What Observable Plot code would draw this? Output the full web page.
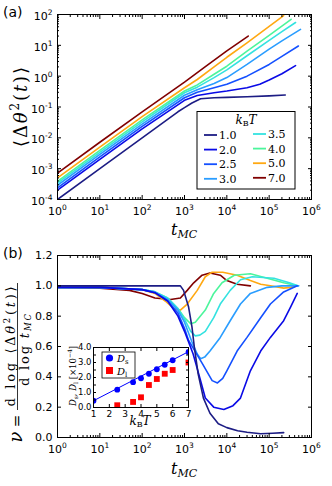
<!DOCTYPE html>
<html><head><meta charset="utf-8">
<script src="https://cdn.jsdelivr.net/npm/d3@7"></script>
<script src="https://cdn.jsdelivr.net/npm/@observablehq/plot@0.6"></script>
<style>
html,body{margin:0;padding:0;background:#fff;}
#root{position:relative;width:332px;height:486px;overflow:hidden;background:#fff;}
#root > svg{position:absolute;}
</style></head><body><div id="root"></div>
<script>
// ---------------- data ----------------
const kTLabels = ["1.0","2.0","2.5","3.0","3.5","4.0","5.0","7.0"];
const kTColors = ["#1c1c84","#0a0ae6","#1450ff","#2a9dff","#34e2e0","#4cf59c","#ffa812","#800000"];

// panel (a): mean squared angular displacement vs t_MC
const msd10_t = [1,10,100,700,1000,1500,2400,5000,1e4,3e4,1e5,2.4e5];
const msd10_v = [1e-4,1e-3,1e-2,0.07,0.095,0.135,0.185,0.2,0.205,0.215,0.23,0.245];
const msd20_t = [1,10,100,1000,2000,5000,1e4,3e4,6e4,1e5,2e5,4.2e5];
const msd20_v = [2e-4,2e-3,1.95e-2,0.165,0.235,0.29,0.33,0.42,0.55,0.75,1.2,2.2];
const msd25_t = [1,10,100,1000,2000,5000,1e4,3e4,1e5,2e5,4.9e5];
const msd25_v = [2.4e-4,2.4e-3,2.35e-2,0.2,0.3,0.42,0.55,1.0,2.4,4.4,9.5];
const msd30_t = [1,10,100,1000,2000,5000,1e4,3e4,1e5,2e5,5.5e5];
const msd30_v = [2.9e-4,2.9e-3,2.8e-2,0.24,0.36,0.58,0.9,2.4,7.5,14,33];
const msd35_t = [1,10,100,1000,2000,5000,1e4,3e4,1e5,2e5,4.2e5];
const msd35_v = [3.4e-4,3.4e-3,3.3e-2,0.29,0.44,0.9,1.6,4.6,14.5,28,55];
const msd40_t = [1,10,100,1000,2000,5000,1e4,3e4,1e5,3.3e5];
const msd40_v = [3.9e-4,3.9e-3,3.8e-2,0.33,0.52,1.15,2.1,6.5,21,70];
const msd50_t = [1,10,100,1000,2000,5000,1e4,3e4,1e5,2.2e5];
const msd50_v = [5e-4,5e-3,4.9e-2,0.42,0.78,2.0,4.1,12,41,92];
const msd70_t = [1,10,100,1000,3000,1e4,3.2e4];
const msd70_v = [7.2e-4,7.2e-3,7e-2,0.64,1.95,6.6,20];

// panel (b): local exponent nu vs t_MC
const nu10_t = [1,10,100,500,800,950,1250,1500,1700,2100,2800,4000,6300,1e4,1.8e4,3e4,6.3e4,1.2e5,2.2e5];
const nu10_v = [1.0,1.0,1.0,1.0,1.0,0.97,0.86,0.73,0.6,0.42,0.26,0.16,0.09,0.065,0.045,0.035,0.025,0.028,0.032];
const nu20_t = [1,10,100,200,400,700,1000,1600,2400,3100,4900,8500,1.4e4,2.1e4,3.6e4,6.3e4,1.07e5,2.2e5,3.2e5,4.6e5];
const nu20_v = [0.99,0.99,0.975,0.955,0.9,0.8,0.7,0.55,0.375,0.26,0.2,0.185,0.21,0.26,0.44,0.57,0.66,0.77,0.86,0.95];
const nu25_t = [1,10,100,200,400,700,1000,1250,2600,4500,6000,8000,1e4,1.75e4,3e4,6.3e4,1.07e5,2.2e5,4.6e5];
const nu25_v = [0.99,0.99,0.975,0.955,0.9,0.82,0.72,0.64,0.49,0.375,0.36,0.39,0.44,0.57,0.66,0.79,0.88,0.96,1.0];
const nu30_t = [1,10,100,200,400,700,1000,1500,2000,2400,3000,4000,7000,1.2e4,2.1e4,3.6e4,9e4,2e5,5e5];
const nu30_v = [0.99,0.99,0.975,0.96,0.91,0.84,0.76,0.63,0.55,0.52,0.53,0.57,0.66,0.77,0.88,0.95,0.99,1.0,1.0];
const nu35_t = [1,10,100,200,400,700,1000,1400,1800,2300,3100,4900,7000,1.2e4,2.1e4,4e4,1.3e5,3e5,4.8e5];
const nu35_v = [0.99,0.99,0.975,0.96,0.92,0.85,0.78,0.7,0.67,0.675,0.7,0.79,0.88,0.97,1.04,1.06,1.05,1.02,1.0];
const nu40_t = [1,10,100,200,400,700,1000,1400,1800,3100,4900,7700,1.5e4,3.6e4,9e4,2.2e5,4.6e5];
const nu40_v = [0.99,0.99,0.975,0.96,0.92,0.85,0.79,0.75,0.76,0.84,0.95,1.02,1.07,1.08,1.05,1.02,1.0];
const nu50_t = [1,10,100,200,350,560,800,1160,2000,3100,4500,8000,1.75e4,3.6e4,6.3e4,1.07e5,2.2e5,3.3e5,4.6e5];
const nu50_v = [0.99,0.99,0.975,0.95,0.9,0.85,0.84,0.88,0.97,1.06,1.09,1.09,1.07,1.035,1.01,1.0,0.985,0.99,1.0];
const nu70_t = [1,10,50,100,200,470,800,1160,1650,2600,4000,7000,1e4,1.75e4,3.6e4];
const nu70_v = [0.99,0.985,0.97,0.95,0.92,0.91,0.92,0.97,1.02,1.07,1.085,1.07,1.035,1.01,1.0];

// inset: diffusion constants vs k_B T (x 10^-4)
const Ds_k = [1,2.5,3.5,4,4.5,5,5.5,6,7];
const Ds_v = [0.45,1.19,1.69,1.95,2.25,2.55,2.85,3.15,3.7];
const Dl_k = [2.5,3.5,4,4.5,5,5.5,6,7];
const Dl_v = [0.15,0.37,0.68,1.5,1.9,2.25,2.5,3.0];
const fit_k = [1,7];
const fit_v = [0.45,3.72];

// tick values
const decX = [1,10,100,1e3,1e4,1e5,1e6];
const decYa = [1e-4,1e-3,1e-2,1e-1,1,10,100];
const ticksYb = [0,0.2,0.4,0.6,0.8,1.0,1.2];
const ticksIx = [1,2,3,4,5,6,7];
const ticksIy = [0,1,2,3,4];
const ticksIyMinor = [0.5,1.5,2.5,3.5];

// ---------------- helpers ----------------
const ns = "http://www.w3.org/2000/svg";
const root = document.getElementById("root");
const minorX = d3.range(0,6).flatMap(e => d3.range(2,10).map(k => k*Math.pow(10,e)));
const minorYa = d3.range(-4,2).flatMap(e => d3.range(2,10).map(k => k*Math.pow(10,e)));
const fmtE = d => "10^" + Math.round(Math.log10(d));
const blank = () => "";
const sans = "'DejaVu Sans', sans-serif";
const serif = "'DejaVu Serif', 'Liberation Serif', serif";

function frameTicks(xMaj, xMin, yMaj, yMin, major = 4, minor = 2) {
  const m = [];
  for (const a of ["bottom","top"]) {
    m.push(Plot.axisX(xMaj, {anchor:a, tickSize:-major, tickFormat:blank, label:null}));
    if (xMin) m.push(Plot.axisX(xMin, {anchor:a, tickSize:-minor, tickFormat:blank, label:null}));
  }
  for (const a of ["left","right"]) {
    m.push(Plot.axisY(yMaj, {anchor:a, tickSize:-major, tickFormat:blank, label:null}));
    if (yMin) m.push(Plot.axisY(yMin, {anchor:a, tickSize:-minor, tickFormat:blank, label:null}));
  }
  return m;
}

function supify(svg, baseShift) {
  svg.querySelectorAll("text").forEach(t => {
    const m = /^10\^(-?\d+)$/.exec(t.textContent);
    if (!m) return;
    const isY = t.getAttribute("text-anchor") === "end" || (t.parentNode && t.parentNode.getAttribute("text-anchor") === "end");
    t.textContent = "";
    const a = document.createElementNS(ns, "tspan");
    a.textContent = "10";
    if (isY && baseShift) a.setAttribute("dy", baseShift);
    const b = document.createElementNS(ns, "tspan");
    b.textContent = m[1];
    b.setAttribute("dy", "-5");
    b.setAttribute("font-size", "7.5px");
    t.append(a, b);
  });
}

function lineMark(t, v, color) {
  return Plot.line(d3.zip(t, v), {x: d => d[0], y: d => d[1], stroke: color, strokeWidth: 1.6, clip: true});
}

const baseStyle = {fontFamily: sans, fontSize: "11px", color: "#000", background: "transparent", overflow: "visible"};

// ---------------- panel (a) ----------------
const msd = [[msd10_t,msd10_v],[msd20_t,msd20_v],[msd25_t,msd25_v],[msd30_t,msd30_v],[msd35_t,msd35_v],[msd40_t,msd40_v],[msd50_t,msd50_v],[msd70_t,msd70_v]];
const plotA = Plot.plot({
  width: 332, height: 243,
  marginLeft: 57, marginRight: 21, marginTop: 14, marginBottom: 44,
  x: {type: "log", domain: [1, 1e6]},
  y: {type: "log", domain: [1e-4, 1e2]},
  style: baseStyle,
  marks: [
    ...msd.map((s, i) => lineMark(s[0], s[1], kTColors[i])),
    Plot.frame({stroke: "#000"}),
    Plot.axisX(decX, {anchor: "bottom", tickSize: 0, tickPadding: 8, tickFormat: fmtE, label: null}),
    Plot.axisY(decYa, {anchor: "left", tickSize: 0, tickPadding: 5, tickFormat: fmtE, label: null}),
    ...frameTicks(decX, minorX, decYa, minorYa)
  ]
});
plotA.style.left = "0px"; plotA.style.top = "0px";
root.appendChild(plotA);
supify(plotA, "2");

// ---------------- panel (b) ----------------
const nus = [[nu10_t,nu10_v],[nu20_t,nu20_v],[nu25_t,nu25_v],[nu30_t,nu30_v],[nu35_t,nu35_v],[nu40_t,nu40_v],[nu50_t,nu50_v],[nu70_t,nu70_v]];
const orderB = [7,6,5,4,3,2,1,0];
const plotB = Plot.plot({
  width: 332, height: 243,
  marginLeft: 57, marginRight: 21, marginTop: 12, marginBottom: 49,
  x: {type: "log", domain: [1, 1e6]},
  y: {domain: [0, 1.2]},
  style: baseStyle,
  marks: [
    ...orderB.map(i => lineMark(nus[i][0], nus[i][1], kTColors[i])),
    Plot.frame({stroke: "#000"}),
    Plot.axisX(decX, {anchor: "bottom", tickSize: 0, tickPadding: 8, tickFormat: fmtE, label: null}),
    Plot.axisY(ticksYb, {anchor: "left", tickSize: 0, tickPadding: 5, tickFormat: d3.format(".1f"), label: null}),
    ...frameTicks(decX, minorX, ticksYb, null)
  ]
});
plotB.style.left = "0px"; plotB.style.top = "243px";
root.appendChild(plotB);
supify(plotB, "2");

// ---------------- inset ----------------
const plotI = Plot.plot({
  width: 200, height: 140,
  marginLeft: 93, marginRight: 12, marginTop: 47, marginBottom: 33,
  x: {domain: [1, 7]},
  y: {domain: [0, 4]},
  style: {...baseStyle, fontSize: "8.5px"},
  marks: [
    Plot.frame({fill: "#fff"}),
    Plot.line(d3.zip(fit_k, fit_v), {x: d => d[0], y: d => d[1], stroke: "#0000ff", strokeWidth: 1}),
    Plot.dot(d3.zip(Ds_k, Ds_v), {x: d => d[0], y: d => d[1], r: 2.9, fill: "#0000ff", clip: true}),
    Plot.dot(d3.zip(Dl_k, Dl_v), {x: d => d[0], y: d => d[1], symbol: "square", r: 3.3, fill: "#ff0000", clip: true}),
    Plot.frame({stroke: "#000"}),
    Plot.axisX(ticksIx, {anchor: "bottom", tickSize: 0, tickPadding: 3, tickFormat: d3.format("d"), label: null, fontSize: 9}),
    Plot.axisY(ticksIy, {anchor: "left", tickSize: 0, tickPadding: 2, tickFormat: d3.format(".1f"), label: null}),
    ...frameTicks(ticksIx, null, ticksIy, ticksIyMinor, 3, 3)
  ]
});
plotI.style.left = "0px"; plotI.style.top = "300px";
root.appendChild(plotI);

// ---------------- overlay: labels & legends ----------------
const ov = document.createElementNS(ns, "svg");
ov.setAttribute("width", 332); ov.setAttribute("height", 486);
ov.style.left = "0px"; ov.style.top = "0px";
let legendRows = "";
kTLabels.forEach((lab, i) => {
  const col = i < 4 ? 0 : 1, row = i % 4;
  const y = (col === 0 ? 135 : 134) + row * 14.6;
  const x0 = col === 0 ? 204 : 253;
  legendRows += `<line x1="${x0}" x2="${x0 + 13}" y1="${y}" y2="${y}" stroke="${kTColors[i]}" stroke-width="1.8"/>`;
  legendRows += `<text x="${x0 + 15}" y="${y + 4}" font-family="${serif}" font-size="11">${lab}</text>`;
});
ov.innerHTML = `
<text x="3" y="17" font-family="${sans}" font-size="14">(a)</text>
<text x="3" y="258" font-family="${sans}" font-size="14">(b)</text>

<text x="184" y="235" text-anchor="middle" font-family="${serif}" font-size="16"><tspan font-style="italic">t</tspan><tspan font-size="11" dy="3" font-style="italic">MC</tspan></text>
<text x="184" y="474" text-anchor="middle" font-family="${serif}" font-size="16"><tspan font-style="italic">t</tspan><tspan font-size="11" dy="3" font-style="italic">MC</tspan></text>

<text transform="translate(27,107) rotate(-90)" text-anchor="middle" font-family="${serif}" font-size="18" textLength="80" lengthAdjust="spacing">⟨Δ<tspan font-style="italic">θ</tspan><tspan font-size="12" dy="-8">2</tspan><tspan dy="8">(</tspan><tspan font-style="italic">t</tspan>)⟩</text>

<text transform="translate(22,437) rotate(-90)" text-anchor="middle" font-family="${serif}" font-size="18" font-style="italic">ν</text>
<text transform="translate(22,421) rotate(-90)" text-anchor="middle" font-family="${serif}" font-size="15">=</text>
<line x1="17.5" x2="17.5" y1="410" y2="283" stroke="#000" stroke-width="0.8"/>
<text transform="translate(14.5,346.5) rotate(-90)" text-anchor="middle" font-family="${serif}" font-size="13" textLength="120" lengthAdjust="spacing">d log ⟨Δ<tspan font-style="italic">θ</tspan><tspan font-size="8.5" dy="-4.5">2</tspan><tspan dy="4.5">(</tspan><tspan font-style="italic">t</tspan>)⟩</text>
<text transform="translate(29,350) rotate(-90)" text-anchor="middle" font-family="${serif}" font-size="13" textLength="72" lengthAdjust="spacing">d log <tspan font-style="italic">t</tspan><tspan font-size="8.5" dy="2" font-style="italic">MC</tspan></text>

<rect x="197" y="111.5" width="98" height="77.5" fill="#fff" stroke="#000" stroke-width="1"/>
<text x="246" y="124" text-anchor="middle" font-family="${serif}" font-size="12"><tspan font-style="italic">k</tspan><tspan font-size="8" dy="2">B</tspan><tspan font-style="italic" dy="-2">T</tspan></text>
${legendRows}

<text transform="translate(75.5,376) rotate(-90)" text-anchor="middle" font-family="${serif}" font-size="8.5"><tspan font-style="italic">D</tspan><tspan font-size="6" dy="2">s</tspan><tspan dy="-2">, </tspan><tspan font-style="italic">D</tspan><tspan font-size="6" dy="2">l</tspan><tspan dy="-2"> [×10</tspan><tspan font-size="6" dy="-3.5">−4</tspan><tspan dy="3.5">]</tspan></text>
<text x="140" y="425" text-anchor="middle" font-family="${serif}" font-size="12"><tspan font-style="italic">k</tspan><tspan font-size="8" dy="2">B</tspan><tspan font-style="italic" dy="-2">T</tspan></text>

<rect x="102" y="352" width="33" height="26" fill="#fff" stroke="#000" stroke-width="0.8"/>
<circle cx="109.5" cy="358" r="3.6" fill="#0000ff"/>
<rect x="106" y="367" width="7" height="7" fill="#ff0000"/>
<text x="117" y="361.5" font-family="${serif}" font-size="10"><tspan font-style="italic">D</tspan><tspan font-size="7" dy="2">s</tspan></text>
<text x="117" y="374.5" font-family="${serif}" font-size="10"><tspan font-style="italic">D</tspan><tspan font-size="7" dy="2">l</tspan></text>
`;
root.appendChild(ov);
</script>
</body></html>
